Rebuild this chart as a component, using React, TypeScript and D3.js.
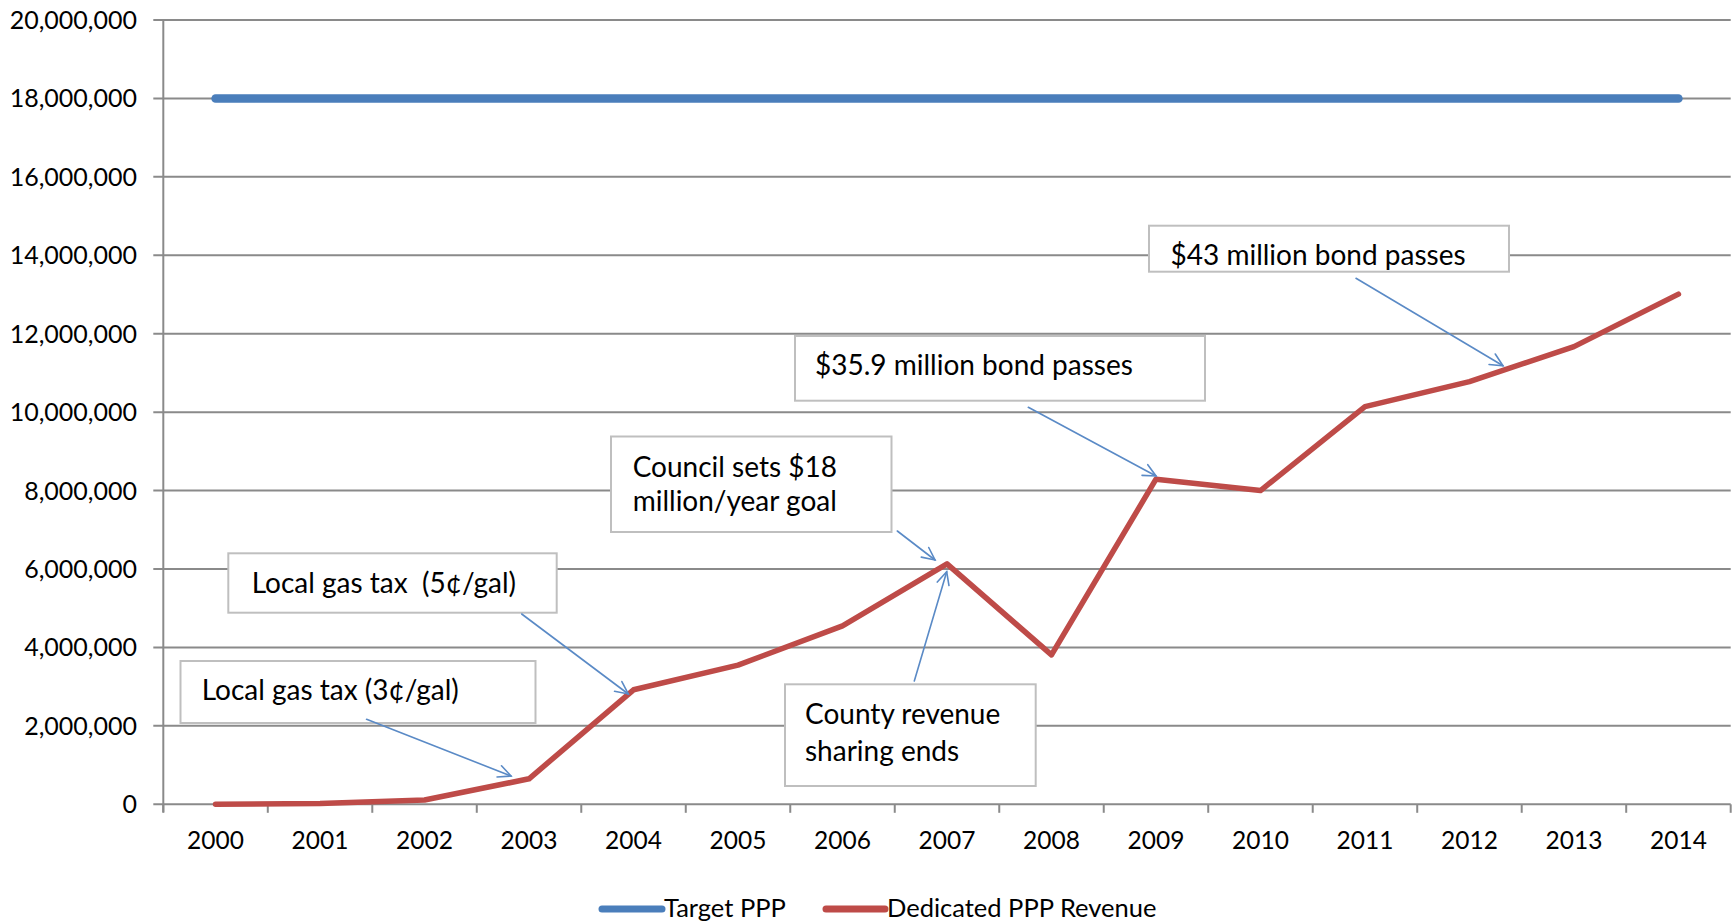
import React from "react";
import * as d3 from "d3";

const years = ["2000","2001","2002","2003","2004","2005","2006","2007","2008","2009","2010","2011","2012","2013","2014"];
const targetPPP = [18000000,18000000,18000000,18000000,18000000,18000000,18000000,18000000,18000000,18000000,18000000,18000000,18000000,18000000,18000000];
const dedicatedRevenue = [0,20000,110000,650000,2920000,3550000,4550000,6130000,3810000,8290000,8000000,10140000,10780000,11670000,13010000];
const yTicks = [0,2000000,4000000,6000000,8000000,10000000,12000000,14000000,16000000,18000000,20000000];
const seriesNames = ["Target PPP","Dedicated PPP Revenue"];
const seriesColors = ["#4A7EBB","#BE4B48"];

const annotations = [
  { lines: ["Local gas tax (3\u00A2/gal)"], box: [180.5, 661, 355, 62], tx: 201.7, ty: [700], from: [366.6, 719.3], to: [511, 776] },
  { lines: ["Local gas tax  (5\u00A2/gal)"], box: [228.3, 553.3, 328.4, 59.4], tx: 251.7, ty: [592.7], from: [521.7, 614], to: [628.3, 694] },
  { lines: ["Council sets $18", "million/year goal"], box: [611, 436.5, 280.5, 95.5], tx: 632.7, ty: [476.7, 510.7], from: [897.3, 531], to: [935, 560] },
  { lines: ["County revenue", "sharing ends"], box: [785, 684.3, 250.7, 101.7], tx: 805, ty: [724, 760.7], from: [914.3, 681], to: [946.7, 571.7] },
  { lines: ["$35.9 million bond passes"], box: [795, 336, 410, 64.7], tx: 815, ty: [375], from: [1028.3, 407.3], to: [1156, 476] },
  { lines: ["$43 million bond passes"], box: [1149, 225.7, 360, 46], tx: 1170.5, ty: [265], from: [1356, 278.3], to: [1503, 365.7] },
];

const W = 1732, H = 922;
const left = 163.3, right = 1730.7, top = 20, bottom = 804.3;
const FONT = "Lato, 'Open Sans', sans-serif";
const GRID = "#8A8A8A";
const ARROW = "#5A8AC6";

function Arrow({ from, to }: { from: number[]; to: number[] }) {
  const ang = Math.atan2(to[1] - from[1], to[0] - from[0]);
  const L = 14, a = 0.45;
  const p1 = [to[0] - L * Math.cos(ang - a), to[1] - L * Math.sin(ang - a)];
  const p2 = [to[0] - L * Math.cos(ang + a), to[1] - L * Math.sin(ang + a)];
  return (
    <g stroke={ARROW} strokeWidth={1.6} fill="none" strokeLinecap="round">
      <line x1={from[0]} y1={from[1]} x2={to[0]} y2={to[1]} />
      <path d={`M${p1[0]},${p1[1]} L${to[0]},${to[1]} L${p2[0]},${p2[1]}`} />
    </g>
  );
}

export default function App() {
  const x = d3.scaleBand<string>().domain(years).range([left, right]).padding(0);
  const y = d3.scaleLinear().domain([0, 20000000]).range([bottom, top]);
  const fmt = d3.format(",");
  const cx = (d: string) => (x(d) as number) + x.bandwidth() / 2;
  const line = d3.line<number>().x((_, i) => cx(years[i])).y((v) => y(v));
  const series = [targetPPP, dedicatedRevenue];
  const boundaries = d3.range(years.length + 1).map((i) => left + i * x.bandwidth());

  const legendItems = [
    { x1: 602, x2: 662, tx: 664 },
    { x1: 826, x2: 885, tx: 887 },
  ];

  return (
    <svg width={W} height={H} style={{ position: "absolute", left: 0, top: 0, background: "#fff" }} fontFamily={FONT}>
      <rect x={0} y={0} width={W} height={H} fill="#fff" />
      {yTicks.map((t) => (
        <line key={t} x1={left - 10} x2={right} y1={y(t)} y2={y(t)} stroke={GRID} strokeWidth={2} />
      ))}
      <line x1={left} x2={left} y1={top} y2={bottom + 8} stroke={GRID} strokeWidth={2} />
      {boundaries.map((b, i) => (
        <line key={i} x1={b} x2={b} y1={bottom} y2={bottom + 8.5} stroke={GRID} strokeWidth={2} />
      ))}
      {yTicks.map((t) => (
        <text key={t} x={137} y={y(t)} dy="0.36em" textAnchor="end" fontSize={25} fill="#000">{fmt(t)}</text>
      ))}
      {years.map((yr) => (
        <text key={yr} x={cx(yr)} y={849} textAnchor="middle" fontSize={24.5} fill="#000">{yr}</text>
      ))}
      {series.map((s, i) => (
        <path key={i} d={line(s) as string} fill="none" stroke={seriesColors[i]} strokeWidth={i === 0 ? 8.5 : 5.5} strokeLinejoin="round" strokeLinecap="round" />
      ))}
      {annotations.map((a, i) => (
        <g key={i}>
          <rect x={a.box[0]} y={a.box[1]} width={a.box[2]} height={a.box[3]} fill="#fff" stroke="#BFBFBF" strokeWidth={2} />
          {a.lines.map((l, j) => (
            <text key={j} x={a.tx} y={a.ty[j]} fontSize={28} fill="#000" style={{ whiteSpace: "pre" }} xmlSpace="preserve">{l}</text>
          ))}
          <Arrow from={a.from} to={a.to} />
        </g>
      ))}
      {legendItems.map((it, i) => (
        <g key={i}>
          <line x1={it.x1} x2={it.x2} y1={909} y2={909} stroke={seriesColors[i]} strokeWidth={7} strokeLinecap="round" />
          <text x={it.tx} y={916.5} fontSize={25.5} fill="#000">{seriesNames[i]}</text>
        </g>
      ))}
    </svg>
  );
}
